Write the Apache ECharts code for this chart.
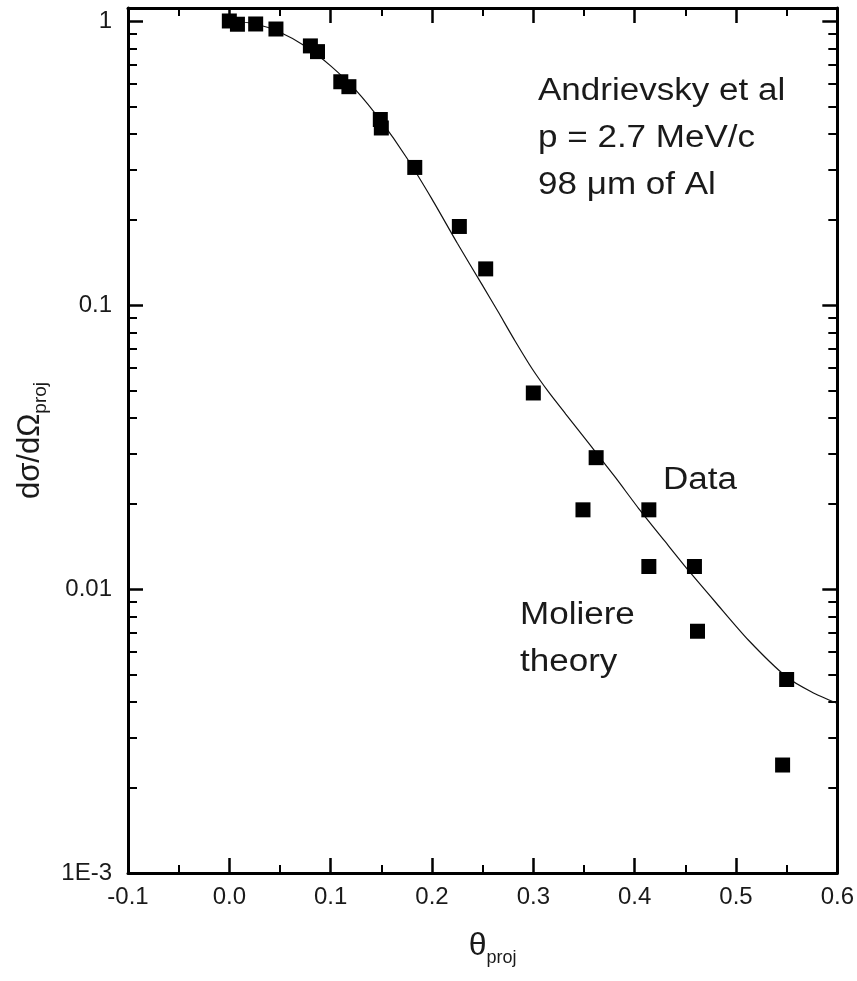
<!DOCTYPE html>
<html>
<head>
<meta charset="utf-8">
<title>Angular distribution, Andrievsky et al</title>
<script src="https://cdn.jsdelivr.net/npm/echarts@6/dist/echarts.min.js"></script>
<style>
  html, body { margin: 0; padding: 0; background: #ffffff; }
  #chart { width: 857px; height: 981px; }
</style>
</head>
<body>
<div id="chart"></div>
<script>
// Measured projected-angle distribution (normalised)
const thetaData = [0.000, 0.008, 0.026, 0.046, 0.080, 0.087, 0.110, 0.118, 0.149, 0.150,
                   0.183, 0.227, 0.253, 0.300, 0.362, 0.349, 0.414, 0.414, 0.459, 0.462,
                   0.550, 0.546];
const crossData = [1.000, 0.974, 0.976, 0.937, 0.817, 0.780, 0.611, 0.587, 0.450, 0.420,
                   0.305, 0.189, 0.134, 0.049, 0.029, 0.019, 0.019, 0.012, 0.012, 0.0071,
                   0.0048, 0.0024];

// Moliere theory curve
const theoryTheta = [0.000, 0.025, 0.050, 0.075, 0.100, 0.125, 0.150, 0.175, 0.200, 0.225,
                     0.250, 0.265, 0.282, 0.299, 0.315, 0.332, 0.355, 0.381, 0.404, 0.430,
                     0.4533, 0.4796, 0.5124, 0.550, 0.5747, 0.600];
const theoryValue = [1.000, 0.978, 0.913, 0.815, 0.695, 0.570, 0.443, 0.330, 0.236, 0.165,
                     0.117, 0.095, 0.0747, 0.0595, 0.0494, 0.0413, 0.0325, 0.0247, 0.0192, 0.0147,
                     0.0116, 0.0090, 0.0066, 0.0049, 0.00434, 0.00395];

// Axis ticks
const xTickLabels = ['-0.1', '0.0', '0.1', '0.2', '0.3', '0.4', '0.5', '0.6'];
const yTickValues = [0.001, 0.01, 0.1, 1];
const yTickLabels = ['1E-3', '0.01', '0.1', '1'];
const yMinorMantissas = [2, 3, 4, 5, 6, 7, 8, 9];

const yMinorValues = [];
yTickValues.slice(0, -1).forEach(function (decade) {
  yMinorMantissas.forEach(function (m) { yMinorValues.push(+(m * decade).toPrecision(3)); });
});

const FONT = "'Liberation Sans', Arial, Helvetica, sans-serif";
const INK = '#1a1a1a';

function xFrameAxis(position, withLabels) {
  return {
    type: 'value',
    position: position,
    min: -0.1,
    max: 0.6,
    interval: 0.1,
    axisLine: { show: true, onZero: false, lineStyle: { color: '#000', width: 3 } },
    axisTick: { show: true, inside: true, length: 15, lineStyle: { color: '#000', width: 2.5 } },
    minorTick: { show: true, splitNumber: 2, length: 8, lineStyle: { color: '#000', width: 2 } },
    splitLine: { show: false },
    minorSplitLine: { show: false },
    axisLabel: {
      show: withLabels,
      margin: 12,
      fontSize: 24,
      fontFamily: FONT,
      color: INK,
      formatter: function (v) { return xTickLabels[Math.round((v + 0.1) / 0.1)]; }
    }
  };
}

function yFrameAxis(position, major, withLabels) {
  return {
    type: 'log',
    logBase: 10,
    position: position,
    min: 0.001,
    max: 1.111,
    axisLine: { show: major, onZero: false, lineStyle: { color: '#000', width: 3 } },
    axisTick: {
      show: true,
      inside: true,
      length: major ? 15 : 9,
      customValues: major ? yTickValues : yMinorValues,
      lineStyle: { color: '#000', width: major ? 2.5 : 2 }
    },
    axisLabel: {
      show: withLabels,
      customValues: yTickValues,
      margin: 16,
      fontSize: 24,
      fontFamily: FONT,
      color: INK,
      formatter: function (v) { return yTickLabels[Math.round(Math.log10(v)) + 3]; }
    },
    splitLine: { show: false },
    minorTick: { show: false },
    minorSplitLine: { show: false }
  };
}

const chart = echarts.init(document.getElementById('chart'), null, { renderer: 'canvas' });

const xBottom = xFrameAxis('bottom', true);
xBottom.name = '{t|θ}{s|proj}';
xBottom.nameLocation = 'middle';
xBottom.nameGap = 52;
xBottom.nameTextStyle = {
  padding: [0, 0, 0, 20],
  rich: {
    t: { fontSize: 32, fontFamily: FONT, color: INK, lineHeight: 42, verticalAlign: 'middle' },
    s: { fontSize: 18, fontFamily: FONT, color: INK, verticalAlign: 'bottom' }
  }
};

const yLeft = yFrameAxis('left', true, true);
yLeft.name = '{t|dσ/dΩ}{s|proj}';
yLeft.nameLocation = 'middle';
yLeft.nameGap = 76;
yLeft.nameTextStyle = {
  rich: {
    t: { fontSize: 31, fontFamily: FONT, color: INK, lineHeight: 40, verticalAlign: 'middle' },
    s: { fontSize: 19, fontFamily: FONT, color: INK, verticalAlign: 'bottom' }
  }
};

function note(text, x, y) {
  return {
    type: 'text',
    x: x,
    y: y,
    scaleX: 1.13,
    style: {
      text: text,
      x: 0,
      y: 0,
      align: 'left',
      verticalAlign: 'middle',
      fontSize: 31,
      fontFamily: FONT,
      fill: INK
    }
  };
}

chart.setOption({
  animation: false,
  backgroundColor: '#ffffff',
  grid: { left: 128, right: 18, top: 8, bottom: 108, containLabel: false },
  xAxis: [xBottom, xFrameAxis('top', false)],
  yAxis: [
    yLeft,
    yFrameAxis('left', false, false),
    yFrameAxis('right', true, false),
    yFrameAxis('right', false, false)
  ],
  series: [
    {
      name: 'Moliere theory',
      type: 'line',
      xAxisIndex: 0,
      yAxisIndex: 0,
      data: theoryTheta.map(function (t, i) { return [t, theoryValue[i]]; }),
      smooth: 0.25,
      showSymbol: false,
      symbol: 'none',
      lineStyle: { color: '#111', width: 1.2 },
      z: 2
    },
    {
      name: 'Data',
      type: 'scatter',
      xAxisIndex: 0,
      yAxisIndex: 0,
      data: thetaData.map(function (t, i) { return [t, crossData[i]]; }),
      symbol: 'rect',
      symbolSize: 15,
      itemStyle: { color: '#000', opacity: 1 },
      z: 3
    }
  ],
  graphic: [
    note('Andrievsky et al', 538, 91),
    note('p = 2.7 MeV/c', 538, 138),
    note('98 μm of Al', 538, 185),
    note('Data', 663, 480),
    note('Moliere', 520, 615),
    note('theory', 520, 662)
  ]
});
</script>
</body>
</html>
